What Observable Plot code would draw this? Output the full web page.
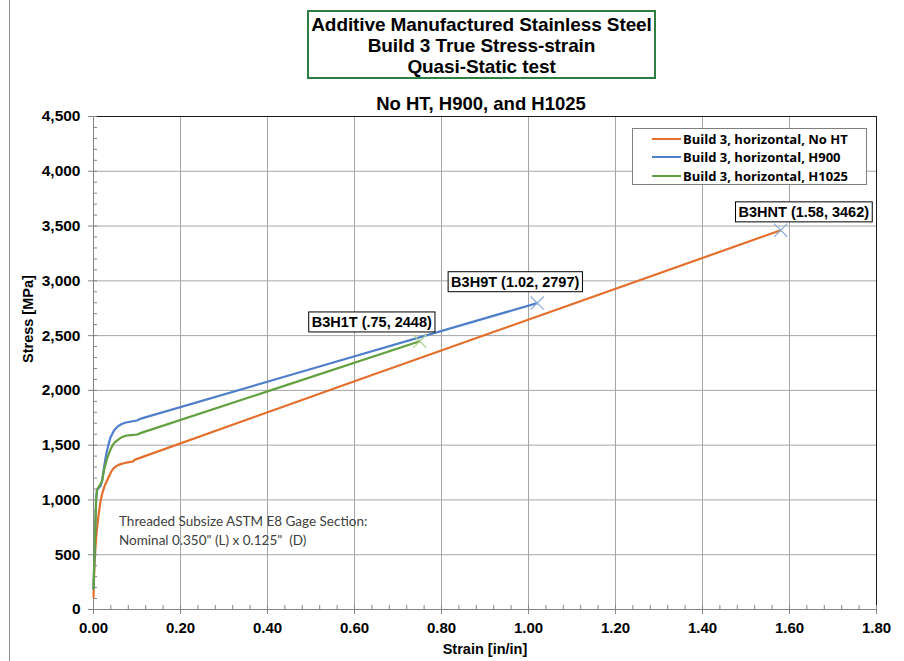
<!DOCTYPE html>
<html><head><meta charset="utf-8">
<script src="https://cdn.jsdelivr.net/npm/d3@7"></script>
<script src="https://cdn.jsdelivr.net/npm/@observablehq/plot@0.6"></script>
<style>
body{margin:0;background:#fff;}
#wrap{position:relative;width:904px;height:661px;overflow:hidden;font-family:"Liberation Sans",Arial,sans-serif;background:#fff;}
#wrap svg{position:absolute;left:0;top:0;}
#lborder{position:absolute;left:9px;top:0;width:1px;height:661px;background:#8c8c8c;}
#title{position:absolute;left:307px;top:10px;width:349px;height:69px;border:2px solid #2e7d42;box-sizing:border-box;text-align:center;font-weight:bold;font-size:19px;line-height:21px;padding-top:2px;letter-spacing:-0.1px;background:#fff;}
#subtitle{position:absolute;left:0;width:962px;top:93px;text-align:center;font-weight:bold;font-size:18.5px;}
#legend{position:absolute;left:632px;top:128px;width:235px;height:57px;border:1px solid #7f7f7f;box-sizing:border-box;background:#fff;font-weight:bold;font-size:13px;font-family:"Open Sans","Liberation Sans",sans-serif;}
.lrow{position:absolute;left:19px;height:19px;display:flex;align-items:center;white-space:nowrap;}
.lsw{width:29px;height:2px;margin-right:2px;}
#note{position:absolute;left:119px;top:512px;font-family:Lato,"Open Sans",sans-serif;font-size:13.5px;color:#404040;line-height:18.5px;white-space:pre;}
</style>
</head><body>
<div id="wrap">
<div id="lborder"></div>
</div>
<script>
// ---- data ----
const seriesNames = ["Build 3, horizontal, No HT", "Build 3, horizontal, H900", "Build 3, horizontal, H1025"];
const seriesColors = ["#e2702c", "#4f7fcb", "#63a040"];
const markerColors = ["#8eaadb", "#8eaadb", "#a9d18e"];

const strainNoHT = [0, 0.002, 0.005, 0.007, 0.010, 0.013, 0.016, 0.020, 0.024, 0.028, 0.035, 0.041, 0.047, 0.053, 0.058, 0.064, 0.070, 0.076, 0.082, 0.091, 0.094, 0.60, 1.58];
const stressNoHT = [112, 400, 600, 694, 810, 900, 985, 1056, 1110, 1150, 1210, 1260, 1293, 1310, 1320, 1329, 1335, 1340, 1345, 1351, 1366, 2083, 3462];

const strainH900 = [0, 0.003, 0.006, 0.008, 0.012, 0.016, 0.020, 0.024, 0.028, 0.031, 0.034, 0.039, 0.046, 0.050, 0.054, 0.060, 0.065, 0.071, 0.077, 0.084, 0.090, 0.100, 0.107, 0.50, 1.02];
const stressH900 = [190, 600, 1000, 1090, 1110, 1125, 1180, 1290, 1390, 1450, 1500, 1570, 1625, 1648, 1664, 1682, 1693, 1702, 1709, 1714, 1718, 1725, 1740, 2195, 2797];

const strainH1025 = [0, 0.003, 0.006, 0.008, 0.012, 0.017, 0.020, 0.024, 0.030, 0.035, 0.040, 0.044, 0.049, 0.054, 0.060, 0.065, 0.071, 0.077, 0.086, 0.095, 0.100, 0.108, 0.40, 0.75];
const stressH1025 = [190, 600, 1000, 1090, 1120, 1150, 1177, 1268, 1360, 1420, 1468, 1500, 1525, 1542, 1560, 1572, 1582, 1588, 1592, 1595, 1597, 1610, 1991, 2448];

const endLabels = ["B3HNT (1.58, 3462)", "B3H9T (1.02, 2797)", "B3H1T (.75, 2448)"];
const endStrain = [1.58, 1.02, 0.75];
const endStress = [3462, 2797, 2448];

const xTicks = [0, 0.2, 0.4, 0.6, 0.8, 1.0, 1.2, 1.4, 1.6, 1.8];
const yTicks = [0, 500, 1000, 1500, 2000, 2500, 3000, 3500, 4000, 4500];
const xMinor = d3.range(0, 1.8001, 0.04);
const yMinor = d3.range(0, 4501, 100);

const titleLines = ["Additive Manufactured Stainless Steel", "Build 3 True Stress-strain", "Quasi-Static test"];
const subtitle = "No HT, H900, and H1025";
const xLabel = "Strain [in/in]";
const yLabel = "Stress [MPa]";
const noteLines = ["Threaded Subsize ASTM E8 Gage Section:", "Nominal 0.350\" (L) x 0.125\"  (D)"];

// ---- build table ----
const strains = [strainNoHT, strainH900, strainH1025];
const stresses = [stressNoHT, stressH900, stressH1025];
const rows = [];
seriesNames.forEach((s, i) => strains[i].forEach((x, j) => rows.push({series: s, strain: x, stress: stresses[i][j]})));
const ends = endLabels.map((l, i) => ({label: l, strain: endStrain[i], stress: endStress[i], color: markerColors[i]}));
const labelOffsets = [[23, -18], [-22, -21], [-48, -19]];

const chart = Plot.plot({
  width: 904, height: 661,
  marginLeft: 93, marginRight: 28, marginTop: 116, marginBottom: 52,
  style: {fontFamily: "'Liberation Sans', Arial, sans-serif", background: "transparent", overflow: "visible"},
  x: {domain: [0, 1.8]},
  y: {domain: [0, 4500]},
  color: {domain: seriesNames, range: seriesColors},
  marks: [
    Plot.gridX(xTicks, {stroke: "#a6a6a6", strokeOpacity: 1, strokeWidth: 1}),
    Plot.gridY(yTicks, {stroke: "#a6a6a6", strokeOpacity: 1, strokeWidth: 1}),
    Plot.ruleX([0], {stroke: "#868686"}),
    Plot.ruleY([0], {stroke: "#868686"}),
    Plot.ruleY([4500], {stroke: "#1a1a1a"}),
    Plot.ruleX([1.8], {stroke: "#1a1a1a"}),
    Plot.axisY(yMinor, {tickSize: 4, dx: 4, tickFormat: () => "", stroke: "#868686", label: null}),
    Plot.axisX(xMinor, {tickSize: 4, dy: -4, tickFormat: () => "", stroke: "#868686", label: null}),
    Plot.axisY(yTicks, {tickSize: 5, tickPadding: 8, tickFormat: d3.format(","), stroke: "#868686", fill: "#000", fontSize: 15.5, fontWeight: "bold", label: null}),
    Plot.axisX(xTicks, {tickSize: 5, tickPadding: 8, tickFormat: d3.format(".2f"), stroke: "#868686", fill: "#000", fontSize: 15, fontWeight: "bold", label: null}),
    Plot.text([xLabel], {frameAnchor: "bottom", dy: 44, fontSize: 14.5, fontWeight: "bold", fill: "#000"}),
    Plot.text([yLabel], {frameAnchor: "left", dx: -65, rotate: -90, fontSize: 14.5, fontWeight: "bold", fill: "#000"}),
    Plot.line(rows, {x: "strain", y: "stress", z: "series", stroke: "series", strokeWidth: 2.2, strokeLinejoin: "round", curve: "linear"}),
    Plot.dot(ends, {x: "strain", y: "stress", symbol: "times", r: 6, stroke: "color", strokeWidth: 1.2}),
    ...ends.map((e, i) => Plot.text([e], {x: "strain", y: "stress", text: "label", dx: labelOffsets[i][0], dy: labelOffsets[i][1], fontSize: 14.5, fontWeight: "bold", fill: "#000", className: "boxed"}))
  ]
});
const wrap = document.getElementById("wrap");
wrap.appendChild(chart);

// boxes behind end labels
d3.select(chart).selectAll("g.boxed text").each(function() {
  const b = this.getBBox();
  d3.select(this.parentNode).insert("rect", () => this)
    .attr("x", b.x - 3).attr("y", b.y - 2).attr("width", b.width + 6).attr("height", b.height + 4)
    .attr("fill", "#fff").attr("stroke", "#000").attr("stroke-width", 1)
    .attr("transform", this.getAttribute("transform"));
});

// title box
const t = document.createElement("div"); t.id = "title";
t.innerHTML = titleLines.join("<br>");
wrap.appendChild(t);
const st = document.createElement("div"); st.id = "subtitle"; st.textContent = subtitle; wrap.appendChild(st);
// legend
const lg = document.createElement("div"); lg.id = "legend";
seriesNames.forEach((s, i) => {
  const r = document.createElement("div"); r.className = "lrow"; r.style.top = (0 + i * 18.5) + "px";
  const sw = document.createElement("span"); sw.className = "lsw"; sw.style.background = seriesColors[i];
  const tx = document.createElement("span"); tx.textContent = s;
  r.appendChild(sw); r.appendChild(tx); lg.appendChild(r);
});
wrap.appendChild(lg);
// note
const n = document.createElement("div"); n.id = "note"; n.textContent = noteLines.join("\n");
wrap.appendChild(n);
</script>
</body></html>
